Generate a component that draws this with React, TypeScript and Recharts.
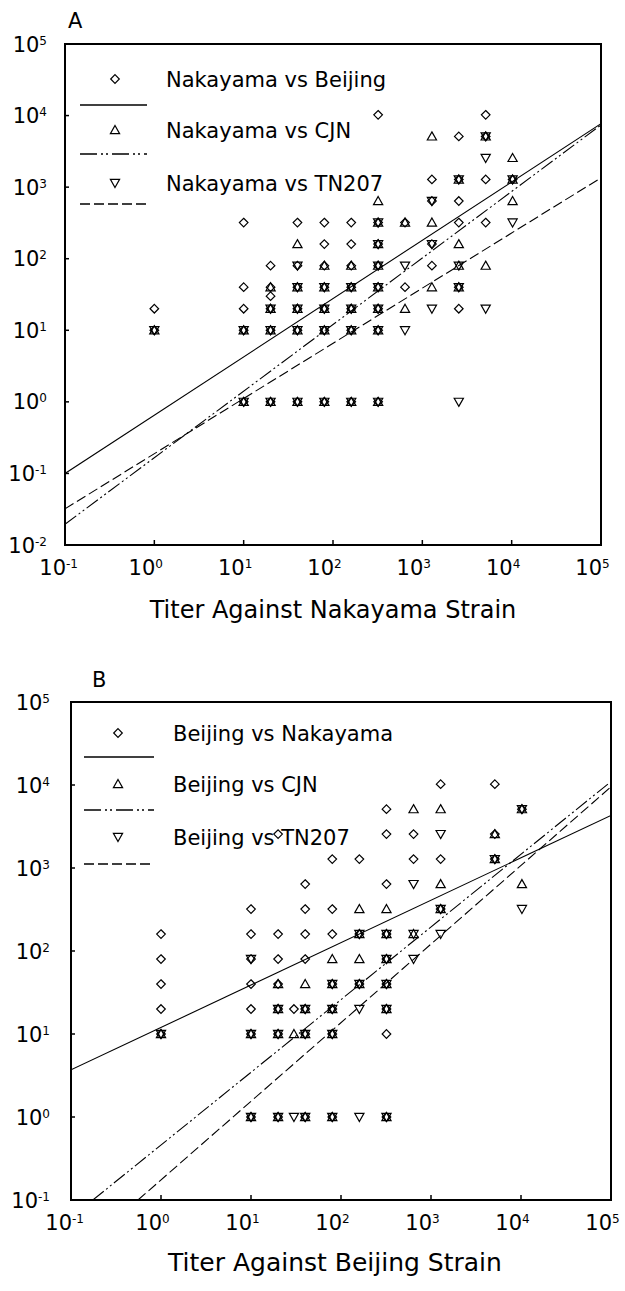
import { ScatterChart, Scatter, XAxis, YAxis, ReferenceArea } from "recharts";

type Pt = [number, number];

const FONT = "'DejaVu Sans', sans-serif";

// --- panel A: titer against Nakayama strain (x) vs the other strains (y)
const xTicksA = [0.1, 1, 10, 100, 1000, 10000, 100000];
const yTicksA = [0.01, 0.1, 1, 10, 100, 1000, 10000, 100000];
const namesA = ["Nakayama vs Beijing", "Nakayama vs CJN", "Nakayama vs TN207"];

const aBeijing: Pt[] = [
  [1, 20], [1, 10],
  [10, 320], [10, 40], [10, 20], [10, 10], [10, 1],
  [20, 80], [20, 40], [20, 30], [20, 20], [20, 10], [20, 1],
  [40, 320], [40, 80], [40, 40], [40, 20], [40, 10], [40, 1],
  [80, 320], [80, 160], [80, 80], [80, 40], [80, 20], [80, 10], [80, 1],
  [160, 320], [160, 160], [160, 80], [160, 40], [160, 20], [160, 10], [160, 1],
  [320, 10240], [320, 320], [320, 160], [320, 80], [320, 40], [320, 20], [320, 10], [320, 1],
  [640, 320], [640, 40],
  [1280, 1280], [1280, 640], [1280, 160], [1280, 80],
  [2560, 5120], [2560, 1280], [2560, 640], [2560, 320], [2560, 40], [2560, 20],
  [5120, 10240], [5120, 5120], [5120, 1280], [5120, 320],
  [10240, 1280],
];
const aCJN: Pt[] = [
  [1, 10], [10, 10], [10, 1],
  [20, 40], [20, 20], [20, 10], [20, 1],
  [40, 160], [40, 40], [40, 20], [40, 10], [40, 1],
  [80, 80], [80, 40], [80, 20], [80, 10], [80, 1],
  [160, 80], [160, 40], [160, 20], [160, 10], [160, 1],
  [320, 640], [320, 320], [320, 160], [320, 80], [320, 40], [320, 20], [320, 10], [320, 1],
  [640, 320], [640, 20],
  [1280, 5120], [1280, 320], [1280, 40],
  [2560, 1280], [2560, 160], [2560, 80], [2560, 40],
  [5120, 5120], [5120, 80],
  [10240, 2560], [10240, 1280], [10240, 640],
];
const aTN207: Pt[] = [
  [1, 10], [10, 10], [10, 1],
  [20, 20], [20, 10], [20, 1],
  [40, 80], [40, 40], [40, 20], [40, 10], [40, 1],
  [80, 40], [80, 20], [80, 10], [80, 1],
  [160, 40], [160, 20], [160, 10], [160, 1],
  [320, 320], [320, 160], [320, 80], [320, 40], [320, 20], [320, 10], [320, 1],
  [640, 80], [640, 10],
  [1280, 640], [1280, 160], [1280, 20],
  [2560, 1280], [2560, 80], [2560, 40], [2560, 1],
  [5120, 5120], [5120, 2560], [5120, 20],
  [10240, 1280], [10240, 320],
];
// fitted lines, ends read at the frame
const aFitBeijing: Pt[] = [[0.1, 0.1], [100000, 7700]];
const aFitCJN: Pt[] = [[0.1, 0.0195], [100000, 7400]];
const aFitTN207: Pt[] = [[0.1, 0.032], [100000, 1350]];

// --- panel B: titer against Beijing strain
const xTicksB = [0.1, 1, 10, 100, 1000, 10000, 100000];
const yTicksB = [0.1, 1, 10, 100, 1000, 10000, 100000];
const namesB = ["Beijing vs Nakayama", "Beijing vs CJN", "Beijing vs TN207"];

const bNakayama: Pt[] = [
  [1, 160], [1, 80], [1, 40], [1, 20], [1, 10],
  [10, 320], [10, 160], [10, 80], [10, 40], [10, 20], [10, 10], [10, 1],
  [20, 2560], [20, 160], [20, 80], [20, 40], [20, 20], [20, 10], [20, 1],
  [30, 20],
  [40, 640], [40, 320], [40, 160], [40, 80], [40, 20], [40, 10], [40, 1],
  [80, 1280], [80, 320], [80, 160], [80, 40], [80, 20], [80, 10], [80, 1],
  [160, 1280], [160, 160], [160, 40],
  [320, 5120], [320, 2560], [320, 640], [320, 160], [320, 80], [320, 40], [320, 20], [320, 10], [320, 1],
  [640, 2560], [640, 1280],
  [1280, 10240], [1280, 1280], [1280, 320],
  [5120, 10240], [5120, 2560], [5120, 1280],
  [10240, 5120],
];
const bCJN: Pt[] = [
  [1, 10], [10, 10], [10, 1],
  [20, 40], [20, 20], [20, 10], [20, 1], [30, 10],
  [40, 40], [40, 20], [40, 10], [40, 1],
  [80, 80], [80, 40], [80, 20], [80, 10], [80, 1],
  [160, 320], [160, 160], [160, 80], [160, 40],
  [320, 320], [320, 160], [320, 80], [320, 40], [320, 20], [320, 1],
  [640, 5120], [640, 160],
  [1280, 5120], [1280, 640], [1280, 320],
  [5120, 2560], [5120, 1280],
  [10240, 5120], [10240, 640],
];
const bTN207: Pt[] = [
  [1, 10], [10, 80], [10, 10], [10, 1],
  [20, 20], [20, 10], [20, 1], [30, 1],
  [40, 20], [40, 10], [40, 1],
  [80, 40], [80, 20], [80, 10], [80, 1],
  [160, 160], [160, 40], [160, 20], [160, 1],
  [320, 160], [320, 80], [320, 40], [320, 20], [320, 1],
  [640, 640], [640, 160], [640, 80],
  [1280, 2560], [1280, 320], [1280, 160],
  [5120, 1280],
  [10240, 5120], [10240, 320],
];
const bFitNakayama: Pt[] = [[0.1, 3.7], [100000, 4300]];
const bFitCJN: Pt[] = [[0.175, 0.1], [100000, 11000]];
const bFitTN207: Pt[] = [[0.555, 0.1], [100000, 9500]];

const toXY = (pts: Pt[]) => pts.map(([x, y]) => ({ x, y }));

// markers
const diamondPath = (cx: number, cy: number) =>
  `M${cx} ${cy - 4.3}L${cx + 4.3} ${cy}L${cx} ${cy + 4.3}L${cx - 4.3} ${cy}Z`;
const upPath = (cx: number, cy: number) =>
  `M${cx} ${cy - 4.5}L${cx + 4.6} ${cy + 3.6}L${cx - 4.6} ${cy + 3.6}Z`;
const downPath = (cx: number, cy: number) =>
  `M${cx} ${cy + 4.5}L${cx + 4.6} ${cy - 3.6}L${cx - 4.6} ${cy - 3.6}Z`;

const markers = [diamondPath, upPath, downPath];
const dashes = [undefined, "14 3 2 3 2 3", "10 4"];

const mark = (fn: (cx: number, cy: number) => string) => (p: any) =>
  <path d={fn(p.cx, p.cy)} fill="none" stroke="#000" strokeWidth={1.2} />;

function XTick(p: any) {
  const e = Math.round(Math.log10(p.payload.value));
  return (
    <g>
      <line x1={p.x} x2={p.x} y1={p.y} y2={p.y - 5} stroke="#000" strokeWidth={1.5} />
      <text x={p.x + 1} y={p.y + 30} textAnchor="end" fontFamily={FONT} fontSize={21} fill="#000">10</text>
      <text x={p.x + 1} y={p.y + 23} textAnchor="start" fontFamily={FONT} fontSize={12} fill="#000">{e}</text>
    </g>
  );
}

function YTick(p: any) {
  const e = Math.round(Math.log10(p.payload.value));
  return (
    <g>
      <line x1={p.x} x2={p.x + 4} y1={p.y} y2={p.y} stroke="#000" strokeWidth={1.5} />
      <text x={p.x - p.gap} y={p.y + 7.5} textAnchor="end" fontFamily={FONT} fontSize={21} fill="#000">
        10<tspan dy={-7} fontSize={12}>{e}</tspan>
      </text>
    </g>
  );
}

type Plot = { left: number; top: number; right: number; bottom: number };

function Panel(props: {
  top: number;
  height: number;
  plot: Plot;
  letter: string;
  letterX: number;
  xTicks: number[];
  yTicks: number[];
  points: Pt[][];
  fits: Pt[][];
  names: string[];
  title: string;
  titleOffset: number;
  titleSize: number;
  titleDx: number;
  yGap: number;
  leg: { symX: number; lx1: number; lx2: number; textX: number; symY: number[]; lineY: number[] };
}) {
  const { top, height, plot, xTicks, yTicks, leg } = props;
  const xd = [xTicks[0], xTicks[xTicks.length - 1]];
  const yd = [yTicks[0], yTicks[yTicks.length - 1]];
  return (
    <div style={{ position: "absolute", left: 0, top, width: 625, height }}>
      <ScatterChart
        width={625}
        height={height}
        margin={{ top: plot.top, right: 625 - plot.right, bottom: 0, left: 0 }}
      >
        <XAxis
          type="number"
          dataKey="x"
          scale="log"
          domain={xd}
          ticks={xTicks}
          interval={0}
          allowDataOverflow
          axisLine={false}
          tickLine={false}
          tickSize={0}
          tickMargin={0}
          height={height - plot.bottom}
          tick={(p: any) => <XTick {...p} />}
          label={{
            value: props.title,
            position: "insideBottom",
            offset: props.titleOffset,
            dx: props.titleDx,
            fill: "#000",
            fontSize: props.titleSize,
            fontFamily: FONT,
          }}
        />
        <YAxis
          type="number"
          dataKey="y"
          scale="log"
          domain={yd}
          ticks={yTicks}
          interval={0}
          allowDataOverflow
          axisLine={false}
          tickLine={false}
          tickSize={0}
          tickMargin={0}
          width={plot.left}
          tick={(p: any) => <YTick {...p} gap={props.yGap} />}
        />
        <ReferenceArea x1={xd[0]} x2={xd[1]} y1={yd[0]} y2={yd[1]} fill="none" fillOpacity={0} stroke="#000" strokeWidth={2} strokeOpacity={1} />
        {props.fits.map((f, i) => (
          <Scatter
            key={"f" + i}
            data={toXY(f)}
            isAnimationActive={false}
            line={{ stroke: "#000", strokeWidth: 1.1, strokeDasharray: dashes[i] }}
            shape={() => <g />}
          />
        ))}
        {props.points.map((s, i) => (
          <Scatter key={"s" + i} data={toXY(s)} isAnimationActive={false} shape={mark(markers[i])} />
        ))}
      </ScatterChart>
      <svg width={625} height={height} style={{ position: "absolute", left: 0, top: 0, pointerEvents: "none" }}>
        <text x={props.letterX} y={top === 0 ? 28 : 47} fontFamily={FONT} fontSize={21} fill="#000">
          {props.letter}
        </text>
        {props.names.map((n, i) => (
          <g key={n}>
            <path d={markers[i](leg.symX, leg.symY[i])} fill="none" stroke="#000" strokeWidth={1.2} />
            <text x={leg.textX} y={leg.symY[i] + 7.5} fontFamily={FONT} fontSize={21} fill="#000">
              {n}
            </text>
            <line
              x1={leg.lx1}
              x2={leg.lx2}
              y1={leg.lineY[i]}
              y2={leg.lineY[i]}
              stroke="#000"
              strokeWidth={1.3}
              strokeDasharray={i === 1 ? "17 4 2 3 2 4" : dashes[i]}
            />
          </g>
        ))}
      </svg>
    </div>
  );
}

export default function App() {
  return (
    <div style={{ position: "absolute", left: 0, top: 0, width: 625, height: 1291, background: "#fff", overflow: "hidden" }}>
      <Panel
        top={0}
        height={640}
        plot={{ left: 65, top: 44, right: 601, bottom: 545 }}
        letter="A"
        letterX={68}
        xTicks={xTicksA}
        yTicks={yTicksA}
        points={[aBeijing, aCJN, aTN207]}
        fits={[aFitBeijing, aFitCJN, aFitTN207]}
        names={namesA}
        title="Titer Against Nakayama Strain"
        titleOffset={22}
        titleSize={24}
        titleDx={0}
        yGap={18}
        leg={{ symX: 115, lx1: 80, lx2: 147, textX: 166, symY: [79, 130, 183], lineY: [105, 154, 204] }}
      />
      <Panel
        top={640}
        height={651}
        plot={{ left: 71, top: 62, right: 611, bottom: 560 }}
        letter="B"
        letterX={92}
        xTicks={xTicksB}
        yTicks={yTicksB}
        points={[bNakayama, bCJN, bTN207]}
        fits={[bFitNakayama, bFitCJN, bFitTN207]}
        names={namesB}
        title="Titer Against Beijing Strain"
        titleOffset={20.5}
        titleSize={25}
        titleDx={-6}
        yGap={21}
        leg={{ symX: 118, lx1: 84, lx2: 154, textX: 173, symY: [93, 144, 197], lineY: [117, 170, 224] }}
      />
    </div>
  );
}
